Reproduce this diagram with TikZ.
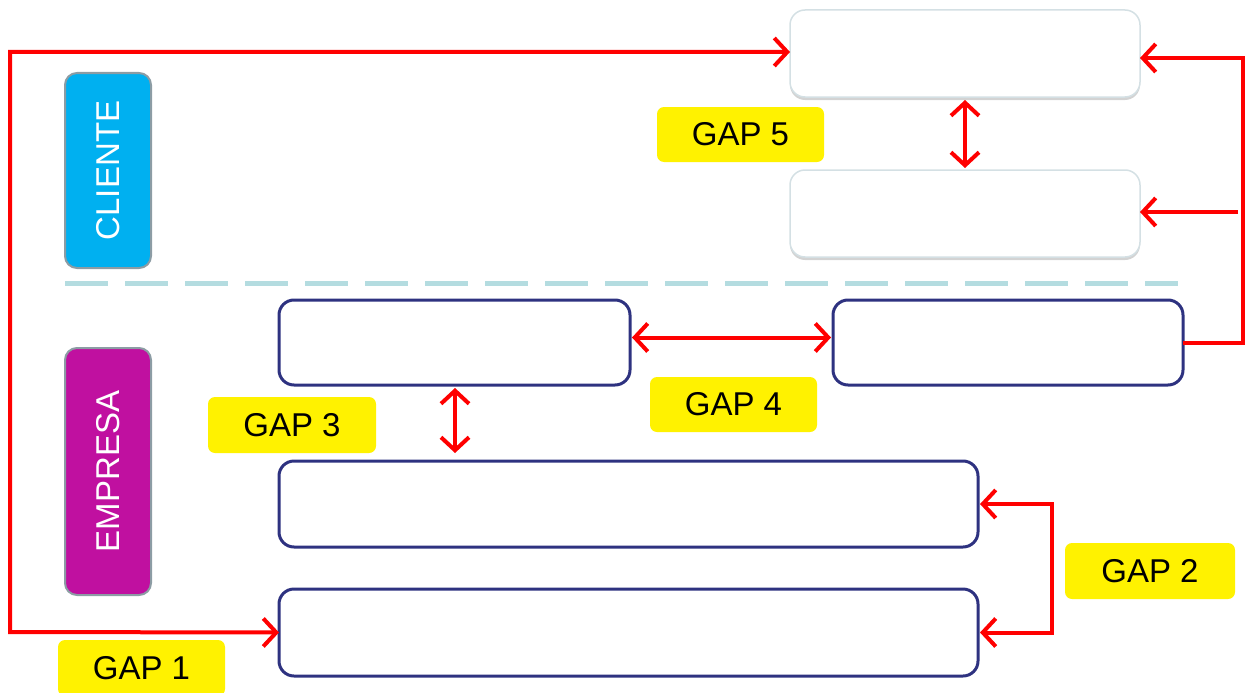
\documentclass[tikz,border=0pt]{standalone}
\usepackage{fontspec}
\setmainfont{Liberation Sans}
\usetikzlibrary{arrows.meta,shadows}
\definecolor{navy}{HTML}{2E3280}
\definecolor{cyanbox}{HTML}{00B0F0}
\definecolor{magbox}{HTML}{C010A0}
\definecolor{dashcol}{HTML}{B4DCE0}
\definecolor{lightbd}{HTML}{D4E0E4}
\definecolor{tagbd}{HTML}{8C9CA4}
\tikzset{
  every node/.style={inner sep=0pt, outer sep=0pt},
  ebox/.style={draw=navy, line width=3pt, rounded corners=15pt, fill=white, anchor=north west},
  cbox/.style={draw=lightbd, line width=1.5pt, rounded corners=15pt, fill=white, anchor=north west,
    drop shadow={shadow xshift=0pt, shadow yshift=-3pt, opacity=0.35, fill=gray}},
  tag/.style={draw=tagbd, line width=2pt, rounded corners=12pt, anchor=north west},
  taglabel/.style={text=white, rotate=90, font=\fontsize{33}{38}\selectfont},
  gap/.style={fill=yellow, rounded corners=7pt, anchor=north west, font=\fontsize{33}{40}\selectfont},
  redarr/.style={draw=red, line width=4pt, arrows={-Straight Barb[length=13pt, width=28pt]}},
  redboth/.style={redarr, arrows={Straight Barb[length=13pt, width=28pt]-Straight Barb[length=13pt, width=28pt]}},
}
\begin{document}
\begin{tikzpicture}[x=1pt,y=-1pt]
\useasboundingbox (0,0) rectangle (1247,693);
% side tags
\node[tag, fill=cyanbox, minimum width=86, minimum height=195] (cl) at (65,73) {};
\node[taglabel] at (cl.center) {CLIENTE};
\node[tag, fill=magbox, minimum width=86, minimum height=247] (em) at (65,348) {};
\node[taglabel] at (em.center) {EMPRESA};
% separator
\draw[dashcol, line width=5pt, dash pattern=on 43pt off 17pt] (65,283) -- (1178,283);
% client boxes
\node[cbox, minimum width=350, minimum height=87] (c1) at (790,10) {};
\node[cbox, minimum width=350, minimum height=87] (c2) at (790,170) {};
% company boxes
\node[ebox, minimum width=351, minimum height=85] (r0) at (279,300) {};
\node[ebox, minimum width=350, minimum height=85] (r1) at (833,300) {};
\node[ebox, minimum width=699, minimum height=86] (b2) at (279,461) {};
\node[ebox, minimum width=699, minimum height=87] (b3) at (279,589) {};
% gap labels
\node[gap, minimum width=167, minimum height=55] (g5) at (657,107) {GAP 5};
\node[gap, minimum width=167, minimum height=55] (g4) at (650,377) {GAP 4};
\node[gap, minimum width=168, minimum height=56] (g3) at (208,397) {GAP 3};
\node[gap, minimum width=170, minimum height=56] (g2) at (1065,543) {GAP 2};
\node[gap, minimum width=167, minimum height=56] (g1) at (58,640) {GAP 1};
% GAP 1 loop
\coordinate (lt) at (10,52);
\coordinate (lb) at (10,632);
\draw[redboth] (c1.west |- lt) -- (lt) -- (lb) -- (b3.west);
% GAP 5
\draw[redboth] ([yshift=-3pt]c1.south) -- ([yshift=2pt]c2.north);
% right connector
\coordinate (rt) at (1243,58);
\coordinate (rb) at (1243,343);
\coordinate (rm) at (1238,212);
\draw[redarr] (r1.east |- rb) -- (rb) -- (rt) -- (c1.east |- rt);
\draw[redarr] (rm) -- (c2.east |- rm);
% GAP 4
\draw[redboth] ([xshift=2pt,yshift=5pt]r0.east) -- ([xshift=-2pt,yshift=5pt]r1.west);
% GAP 3
\coordinate (g3t) at (455,388);
\coordinate (g3b) at (455,453);
\draw[redboth] (g3t) -- (g3b);
% GAP 2
\coordinate (g2x) at (1052,0);
\draw[redboth] ([xshift=2pt]b2.east) -- (g2x |- b2.east) -- (g2x |- b3.east) -- ([xshift=2pt]b3.east);
\end{tikzpicture}
\end{document}
